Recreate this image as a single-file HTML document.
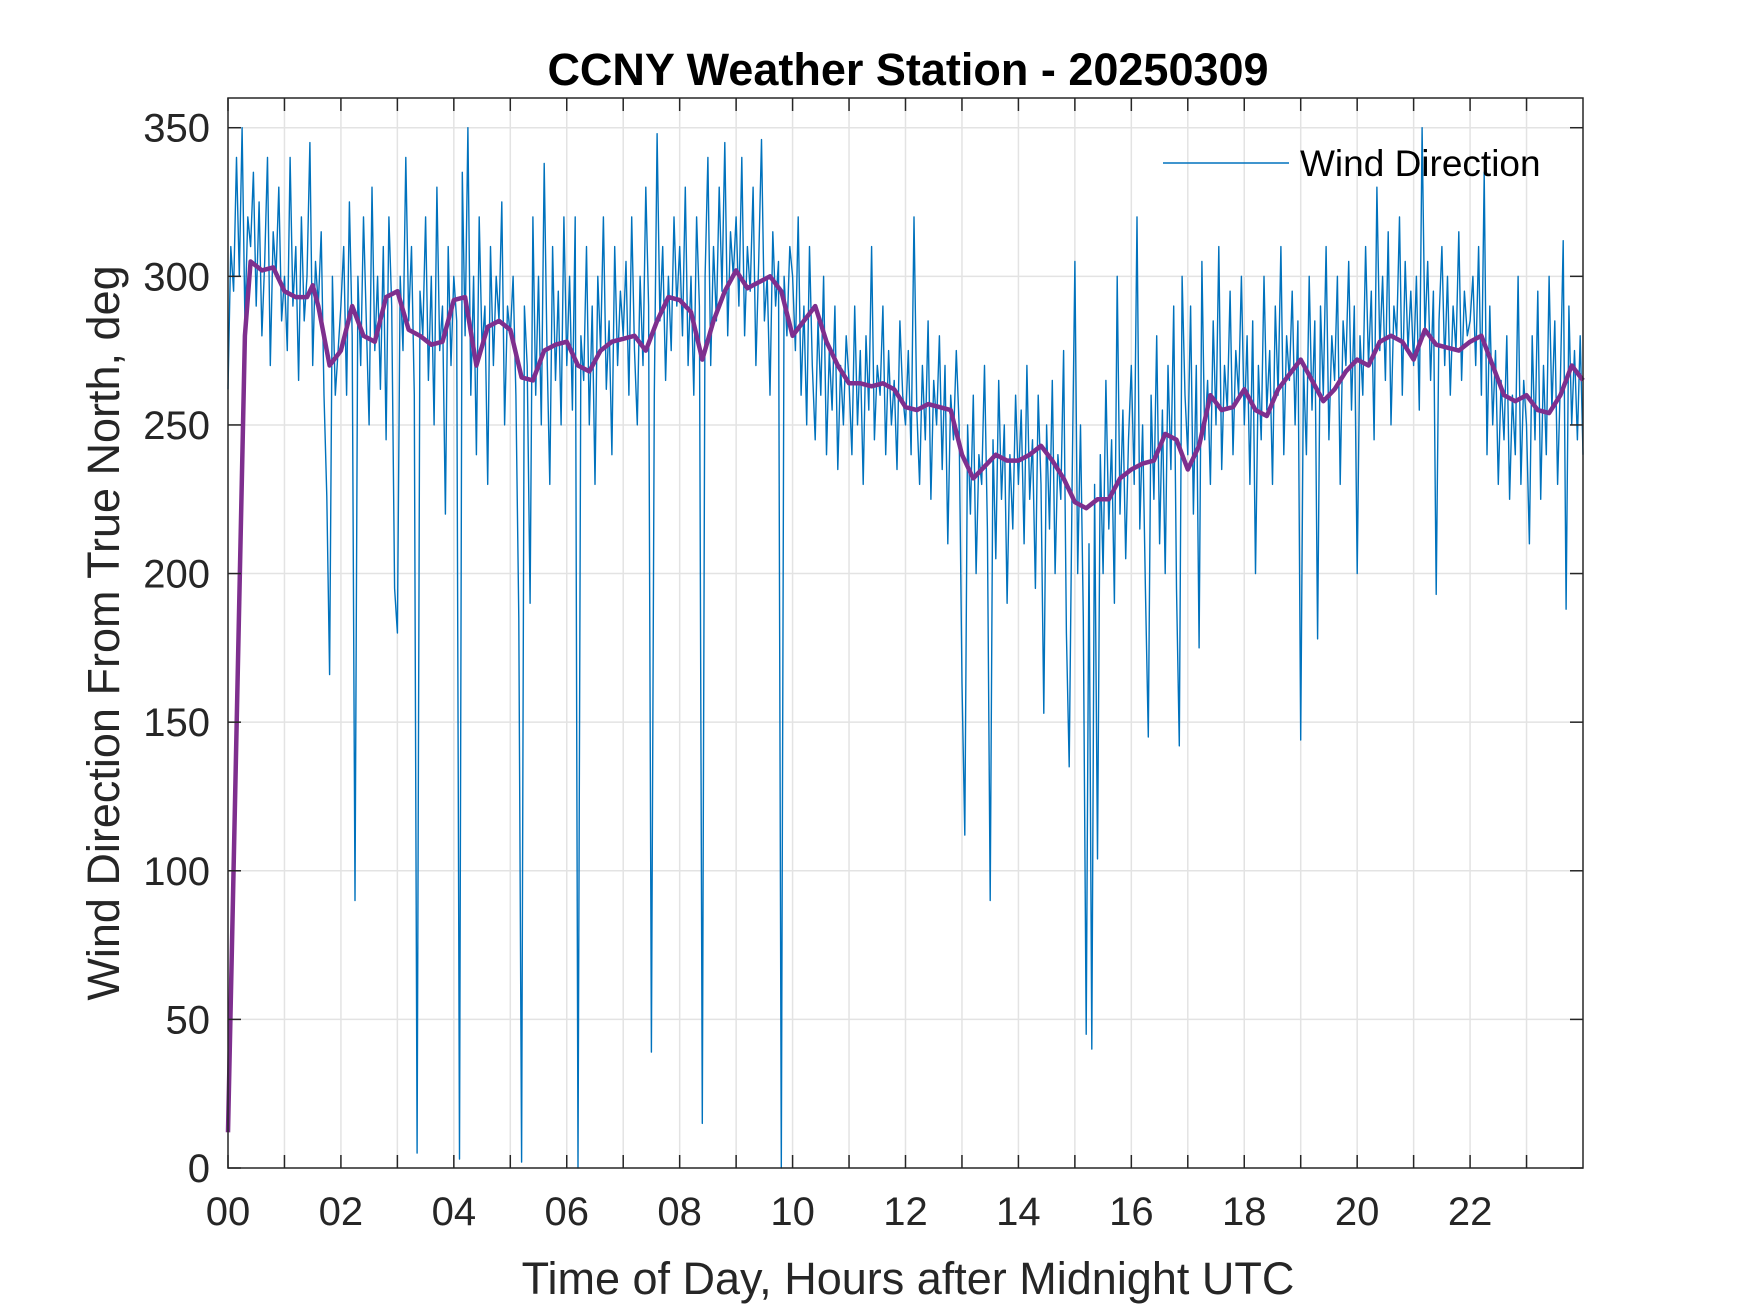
<!DOCTYPE html>
<html><head><meta charset="utf-8"><style>
html,body{margin:0;padding:0;background:#fff;}
svg{display:block;font-family:"Liberation Sans",Arial,sans-serif;}
</style></head><body>
<svg id="chart" width="1750" height="1313" viewBox="0 0 1750 1313" xmlns="http://www.w3.org/2000/svg">
<rect width="1750" height="1313" fill="#fff"/>
<g id="grid"></g>
<g id="plot"></g>
<g id="axes"></g>
<text x="908" y="85" text-anchor="middle" font-size="45" font-weight="bold" fill="#000">CCNY Weather Station - 20250309</text>
<text x="908" y="1294" text-anchor="middle" font-size="45" fill="#262626">Time of Day, Hours after Midnight UTC</text>
<text transform="translate(119,633) rotate(-90)" text-anchor="middle" font-size="45" fill="#262626">Wind Direction From True North, deg</text>
<g>
<line x1="1163" y1="163" x2="1289" y2="163" stroke="#0072BD" stroke-width="1.5"/>
<text x="1300" y="176" font-size="37" fill="#000">Wind Direction</text>
</g>
</svg>
<script>
const blueStep = 0.05;
const blueValues = [
262,310,295,340,300,350,285,320,310,335,290,325,280,305,340,270,315,300,330,285,
300,275,340,290,310,265,320,285,300,345,270,305,290,315,260,226,166,300,260,275,
290,310,260,325,280,90,300,270,320,285,250,330,275,300,262,310,245,320,290,195,
180,300,275,340,285,310,260,5,295,280,320,265,300,250,330,275,290,220,310,270,
300,285,3,335,280,350,260,300,240,320,275,290,230,310,270,300,285,325,250,290,
280,300,260,185,2,290,270,190,320,260,300,250,338,275,230,310,265,295,250,320,
270,300,255,320,0,280,265,310,250,290,230,300,275,320,262,285,240,310,270,295,
280,305,260,320,275,250,300,270,330,290,39,260,348,285,310,265,300,275,320,290,
310,280,330,270,300,260,320,290,15,300,340,270,310,285,330,295,345,280,315,300,
320,290,340,280,310,295,330,270,305,346,285,300,260,315,290,305,0,300,280,310,
300,275,320,260,290,250,310,270,245,285,260,300,240,275,255,290,235,270,250,280,
265,240,290,250,275,230,280,255,310,245,270,260,290,240,275,250,265,235,285,260,
250,275,240,320,255,230,270,245,285,225,265,250,280,235,270,210,260,245,275,250,
163,112,250,220,260,200,240,230,270,215,90,245,205,265,225,250,190,240,215,260,
230,255,210,270,225,245,195,260,230,153,250,215,265,200,240,225,275,180,135,230,
305,200,250,185,45,210,40,230,104,240,200,265,215,245,190,300,220,255,205,245,
270,230,320,215,250,195,145,260,225,280,210,255,200,270,235,290,195,142,300,260,
240,290,220,270,175,305,245,265,230,285,250,310,235,270,255,295,240,275,260,300,
250,280,230,285,200,270,245,300,255,275,230,290,260,310,240,280,265,295,250,285,
144,270,240,300,255,285,178,290,260,310,245,280,265,300,230,285,270,305,255,290,
200,280,260,310,270,295,245,330,275,300,265,315,250,290,280,320,260,305,275,295,
270,300,255,350,280,305,265,295,193,285,310,270,300,260,290,275,315,265,295,280,
285,300,270,310,260,335,240,290,250,275,230,265,245,280,225,260,240,300,230,265,
250,210,280,245,295,225,270,240,300,255,285,230,265,312,188,290,250,275,245,280,
240];
const avgHours = [0,0.3,0.4,0.6,0.8,1.0,1.2,1.4,1.5,1.6,1.8,2.0,2.2,2.4,2.6,2.8,3.0,3.2,3.4,3.6,3.8,4.0,4.2,4.4,4.6,4.8,5.0,5.2,5.4,5.6,5.8,6.0,6.2,6.4,6.6,6.8,7.0,7.2,7.4,7.6,7.8,8.0,8.2,8.4,8.6,8.8,9.0,9.2,9.4,9.6,9.8,10.0,10.2,10.4,10.6,10.8,11.0,11.2,11.4,11.6,11.8,12.0,12.2,12.4,12.6,12.8,13.0,13.2,13.4,13.6,13.8,14.0,14.2,14.4,14.6,14.8,15.0,15.2,15.4,15.6,15.8,16.0,16.2,16.4,16.6,16.8,17.0,17.2,17.4,17.6,17.8,18.0,18.2,18.4,18.6,18.8,19.0,19.2,19.4,19.6,19.8,20.0,20.2,20.4,20.6,20.8,21.0,21.2,21.4,21.6,21.8,22.0,22.2,22.4,22.6,22.8,23.0,23.2,23.4,23.6,23.8,24.0];
const avgValues = [12,280,305,302,303,295,293,293,297,290,270,275,290,280,278,293,295,282,280,277,278,292,293,270,283,285,282,266,265,275,277,278,270,268,275,278,279,280,275,285,293,292,288,272,285,295,302,296,298,300,295,280,285,290,278,270,264,264,263,264,262,256,255,257,256,255,240,232,236,240,238,238,240,243,238,232,224,222,225,225,232,235,237,238,247,245,235,243,260,255,256,262,255,253,262,267,272,265,258,262,268,272,270,278,280,278,272,282,277,276,275,278,280,270,260,258,260,255,254,260,270,265];
const xTicks = [0,1,2,3,4,5,6,7,8,9,10,11,12,13,14,15,16,17,18,19,20,21,22,23];
const xTickLabels = ["00","","02","","04","","06","","08","","10","","12","","14","","16","","18","","20","","22",""];
const yTicks = [0,50,100,150,200,250,300,350];

const L=228,R=1583,T=98,B=1168,XMAX=24,YMAX=360;
const xS=h=>L+(h/XMAX)*(R-L);
const yS=v=>B-(v/YMAX)*(B-T);
const NS="http://www.w3.org/2000/svg";
function mk(tag,attrs,parent){const e=document.createElementNS(NS,tag);for(const k in attrs)e.setAttribute(k,attrs[k]);parent.appendChild(e);return e;}
const grid=document.getElementById('grid'),plot=document.getElementById('plot'),axes=document.getElementById('axes');

xTicks.forEach((h,i)=>{
  const x=xS(h);
  if(h>0){const g=mk('line',{x1:x,y1:T,x2:x,y2:B,stroke:'#e3e3e3','stroke-width':1.5},grid);
  
  }
  const t1=mk('line',{x1:x,y1:B,x2:x,y2:B-13,stroke:'#262626','stroke-width':1.5},axes);
  
  
  const t2=mk('line',{x1:x,y1:T,x2:x,y2:T+13,stroke:'#262626','stroke-width':1.5},axes);
  
  
  if(xTickLabels[i]){const t=mk('text',{x:x,y:B+57,'text-anchor':'middle','font-size':40,fill:'#262626'},axes);t.textContent=xTickLabels[i];
  
  }
});
yTicks.forEach(v=>{
  const y=yS(v);
  if(v>0){const g=mk('line',{x1:L,y1:y,x2:R,y2:y,stroke:'#e3e3e3','stroke-width':1.5},grid);
  
  }
  const t1=mk('line',{x1:L,y1:y,x2:L+13,y2:y,stroke:'#262626','stroke-width':1.5},axes);
  
  
  const t2=mk('line',{x1:R,y1:y,x2:R-13,y2:y,stroke:'#262626','stroke-width':1.5},axes);
  
  
  const t=mk('text',{x:L-18,y:y+14,'text-anchor':'end','font-size':40,fill:'#262626'},axes);t.textContent=v;
  
  
});
const box=mk('rect',{x:L,y:T,width:R-L,height:B-T,fill:'none',stroke:'#262626','stroke-width':1.5},axes);



const bp=blueValues.map((v,i)=>`${i?'L':'M'}${xS(i*blueStep).toFixed(1)},${yS(v).toFixed(1)}`).join('');
const blue=mk('path',{d:bp,fill:'none',stroke:'#0072BD','stroke-width':1.4,'stroke-linejoin':'round'},plot);


const ap=avgValues.map((v,i)=>`${i?'L':'M'}${xS(avgHours[i]).toFixed(1)},${yS(v).toFixed(1)}`).join('');
const avg=mk('path',{d:ap,fill:'none',stroke:'#7E2F8E','stroke-width':4.5,'stroke-linejoin':'round'},plot);


</script>
</body></html>
